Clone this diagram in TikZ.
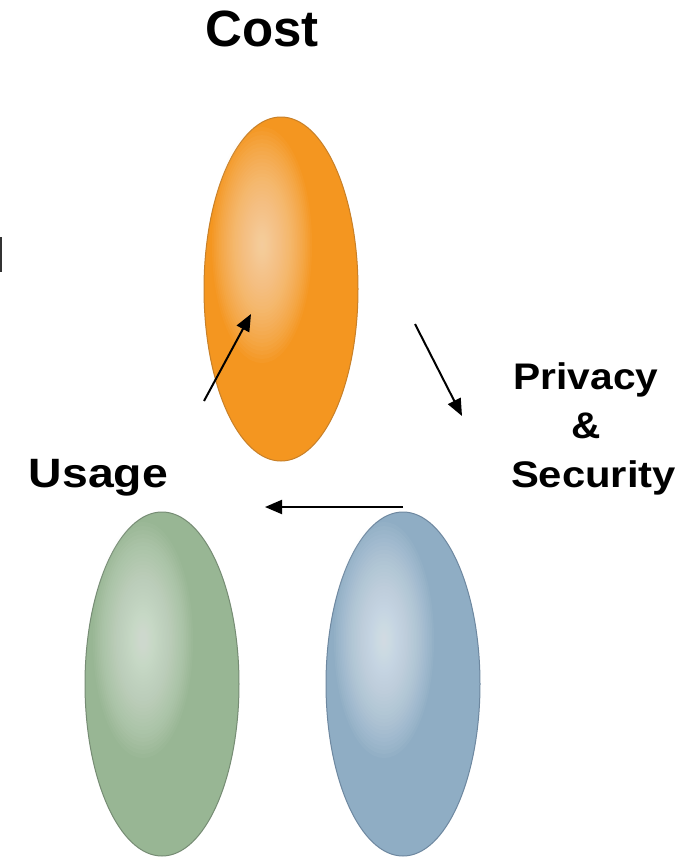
\documentclass[tikz,border=0pt]{standalone}
\usepackage{fontspec}
\setmainfont{Liberation Sans}
\usetikzlibrary{shapes.geometric,arrows.meta}
\definecolor{obase}{RGB}{244,150,32}
\definecolor{ohi}{RGB}{248,222,186}
\definecolor{oedge}{RGB}{200,128,40}
\definecolor{gbase}{RGB}{152,182,148}
\definecolor{ghi}{RGB}{224,235,224}
\definecolor{gedge}{RGB}{118,140,116}
\definecolor{bbase}{RGB}{143,173,196}
\definecolor{bhi}{RGB}{228,237,245}
\definecolor{bedge}{RGB}{110,136,160}
\newcommand\myglow[2]{% center, colour
  \foreach \k in {1,...,40}{
    \pgfmathsetmacro\ff{(\k/40)^1.4}
    \fill[#2, opacity=0.05] ([shift={(-19pt,44pt)}]#1) ellipse ({50pt*\ff} and {118pt*\ff});
  }}
\tikzset{
  blob/.style n args={2}{ellipse, minimum width=154pt, minimum height=344pt, inner sep=0pt,
    draw=#2, line width=1pt, fill=#1},
  lbl/.style={inner sep=0pt, anchor=base},
  conn/.style={line width=2pt, -{Triangle[length=17pt,width=14pt]}}
}
\begin{document}
\begin{tikzpicture}[x=1pt,y=1pt]
\useasboundingbox (0,0) rectangle (695,-857);
\fill[white] (0,0) rectangle (695,-857);
% ellipses
\node[blob={obase}{oedge}] (cost) at (281,-289) {};
\node[blob={gbase}{gedge}] (usage) at (162,-684) {};
\node[blob={bbase}{bedge}] (privacy) at (403,-684) {};
\myglow{cost.center}{ohi}
\myglow{usage.center}{ghi}
\myglow{privacy.center}{bhi}
% labels
\node[lbl, font=\fontsize{51}{51}\selectfont\bfseries] (tcost) at (262,-46) {Cost};
\node[lbl, font=\fontsize{41}{41}\selectfont\bfseries] (tusage) at (98.5,-487) {\scalebox{1.13}[1]{Usage}};
\node[lbl, font=\fontsize{37}{37}\selectfont\bfseries] (tpriv) at (586,-389) {\scalebox{1.1}[1]{Privacy}};
\node[lbl, font=\fontsize{37}{37}\selectfont\bfseries] (tamp) at (586,-438) {\scalebox{1.1}[1]{\&}};
\node[lbl, font=\fontsize{37}{37}\selectfont\bfseries] (tsec) at (593.5,-487) {\scalebox{1.13}[1]{Security}};
% arrows
\coordinate (a1s) at (204,-401);
\coordinate (a1e) at (251,-314);
\coordinate (a2s) at (415,-324);
\coordinate (a2e) at (462,-416);
\coordinate (a3s) at (403,-507);
\coordinate (a3e) at (265,-507);
\draw[conn] (a1s) -- (a1e);
\draw[conn] (a2s) -- (a2e);
\draw[conn] (a3s) -- (a3e);
% left edge fragment
\coordinate (m1) at (1,-237);
\coordinate (m2) at (1,-272);
\draw[line width=1.6pt, black!80] (m1) -- (m2);
\end{tikzpicture}
\end{document}
